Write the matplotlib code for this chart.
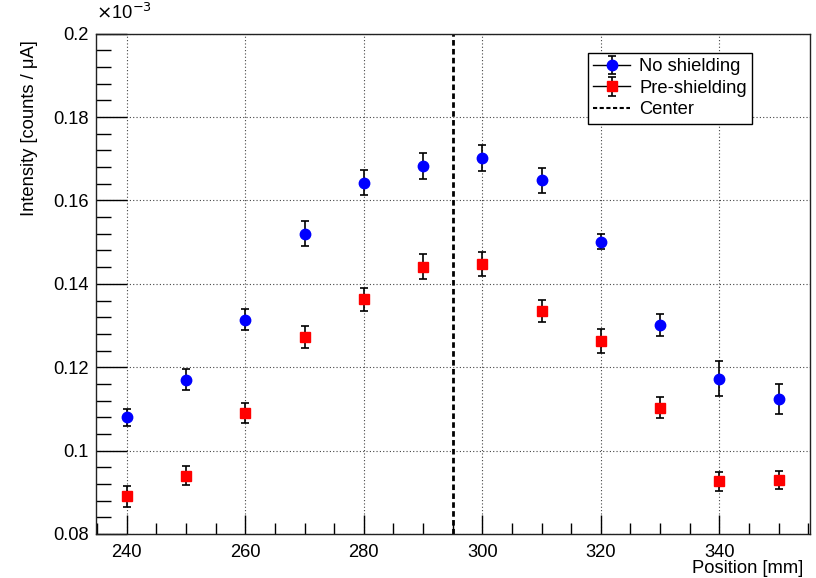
import matplotlib
matplotlib.use("Agg")
import matplotlib.pyplot as plt
from matplotlib.lines import Line2D
from matplotlib.legend_handler import HandlerTuple
from matplotlib.ticker import MultipleLocator

plt.rcParams['font.family'] = ['Liberation Sans', 'DejaVu Sans']

positions = [240, 250, 260, 270, 280, 290, 300, 310, 320, 330, 340, 350]
no_shield = [0.1080, 0.1170, 0.1314, 0.1520, 0.1642, 0.1683, 0.1701, 0.1648, 0.1501, 0.1301, 0.1172, 0.1123]
no_shield_err = [0.0020, 0.0025, 0.0025, 0.0030, 0.0030, 0.0031, 0.0031, 0.0031, 0.0018, 0.0027, 0.0042, 0.0036]
pre_shield = [0.0890, 0.0940, 0.1090, 0.1272, 0.1363, 0.1441, 0.1448, 0.1335, 0.1263, 0.1103, 0.0926, 0.0929]
pre_shield_err = [0.0026, 0.0023, 0.0024, 0.0027, 0.0028, 0.0030, 0.0028, 0.0027, 0.0029, 0.0025, 0.0022, 0.0021]
center = 295

FS = 13.2

fig = plt.figure(figsize=(8.16, 5.78), dpi=100)
ax = fig.add_axes([96/816, 1-534/578, (810-96)/816, (534-33.7)/578])

ax.grid(True, which='major', linestyle=(0, (1, 2)), color='#444444', linewidth=0.8)
ax.set_axisbelow(True)

eb1 = ax.errorbar(positions, no_shield, yerr=no_shield_err, fmt='o', color='blue',
                  markersize=7.5, ecolor='black', elinewidth=1.2, capsize=3, capthick=1.2, zorder=3)
eb2 = ax.errorbar(positions, pre_shield, yerr=pre_shield_err, fmt='s', color='red',
                  markersize=6.5, ecolor='black', elinewidth=1.2, capsize=3, capthick=1.2, zorder=3)
ax.axvline(center, color='black', linestyle=(0, (2, 1.2)), linewidth=2, zorder=2)

ax.set_xlim(234.8, 355.3)
ax.set_ylim(0.08, 0.2)
ax.xaxis.set_major_locator(MultipleLocator(20))
ax.xaxis.set_minor_locator(MultipleLocator(5))
ax.yaxis.set_major_locator(MultipleLocator(0.02))
ax.yaxis.set_minor_locator(MultipleLocator(0.004))
ax.yaxis.set_major_formatter(matplotlib.ticker.FuncFormatter(lambda v, p: ('%g' % round(v, 4))))

ax.tick_params(axis='both', which='both', direction='in', top=False, right=False, labelsize=FS)
ax.tick_params(axis='y', which='major', length=22, width=1, pad=5)
ax.tick_params(axis='y', which='minor', length=11, width=1)
ax.tick_params(axis='x', which='major', length=14, width=1, pad=7)
ax.tick_params(axis='x', which='minor', length=8, width=1)
for s in ax.spines.values():
    s.set_linewidth(1)
    s.set_color('#222222')

ax.set_ylabel('Intensity [counts / μA]', fontsize=FS, loc='top')
ax.yaxis.set_label_coords(-(96-38)/714, (534-40)/500.3)
ax.set_xlabel('Position [mm]', fontsize=FS, loc='right')
ax.xaxis.set_label_coords((803-96)/714, -(560-534)/500.3)
fig.text(96/816, 1-13/578, r'$\times$10$^{-3}$', fontsize=FS, ha='left', va='center')

h1 = (Line2D([], [], color='black', lw=1), eb1)
h2 = (Line2D([], [], color='black', lw=1), eb2)
h3 = Line2D([], [], color='black', linestyle=(0, (2, 1.2)), lw=1.5)
leg = ax.legend([h1, h2, h3], ['No shielding', 'Pre-shielding', 'Center'],
                handler_map={tuple: HandlerTuple(ndivide=1)},
                loc='upper left', bbox_to_anchor=((587.7-96)/714, (534-52.7)/500.3),
                fontsize=FS, frameon=True, fancybox=False, edgecolor='black',
                framealpha=1, borderpad=0.3, labelspacing=0.25, handlelength=2.0,
                handletextpad=0.5, borderaxespad=0)
leg.get_frame().set_linewidth(1)

fig.savefig('out.png', dpi=100)
